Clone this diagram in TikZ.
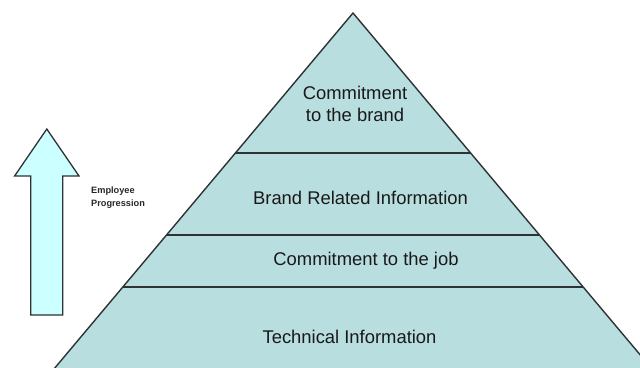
\documentclass[tikz,border=0pt]{standalone}
\usepackage{fontspec}
\setmainfont{Liberation Sans}
\usetikzlibrary{calc}
\definecolor{layerfill}{RGB}{185,222,224}
\definecolor{arrowfill}{RGB}{204,255,255}
\definecolor{edge}{RGB}{45,50,52}
\tikzset{
  outline/.style={draw=edge, line width=1.4pt, line join=miter},
  layertext/.style={font=\fontsize{18.4}{22}\selectfont, text=black!90, align=center, inner sep=0pt},
  sidetext/.style={font=\bfseries\fontsize{9.2}{12.5}\selectfont, text=black!85, align=left, inner sep=0pt, anchor=north west},
}
\begin{document}
\begin{tikzpicture}[x=1pt, y=-1pt]
  \useasboundingbox (0,0) rectangle (640,367);
  \clip (0,0) rectangle (640,367);

  % pyramid outline (base lies below the visible area)
  \coordinate (apex) at (353,13);
  \coordinate (bl) at (44.7,380);
  \coordinate (br) at (661.3,380);
  \fill[layerfill] (apex) -- (bl) -- (br) -- cycle;
  \draw[outline] (bl) -- (apex) -- (br);

  % layer boundaries
  \coordinate (l1) at ($(apex)!0.3815!(bl)$);
  \coordinate (r1) at ($(apex)!0.3815!(br)$);
  \coordinate (l2) at ($(apex)!0.6049!(bl)$);
  \coordinate (r2) at ($(apex)!0.6049!(br)$);
  \coordinate (l3) at ($(apex)!0.7466!(bl)$);
  \coordinate (r3) at ($(apex)!0.7466!(br)$);
  \draw[outline, line width=1.2pt] (l1) -- (r1);
  \draw[outline, line width=1.2pt] (l2) -- (r2);
  \draw[outline, line width=1.2pt] (l3) -- (r3);

  % layer labels
  \node[layertext] (brand) at (355,104) {Commitment\\to the brand};
  \node[layertext] (info) at (360.5,198) {Brand Related Information};
  \node[layertext] (job) at (366,261) {Commitment to the job};
  \node[layertext] (tech) at (349.5,337) {Technical Information};

  % progression arrow
  \draw[outline, fill=arrowfill, line width=1.3pt]
    (46.8,129) -- (79,176) -- (62.7,176) -- (62.7,315) -- (30.7,315)
    -- (30.7,176) -- (14.6,176) -- cycle;
  \node[sidetext] (prog) at (91,187) {Employee\\Progression};
\end{tikzpicture}
\end{document}
